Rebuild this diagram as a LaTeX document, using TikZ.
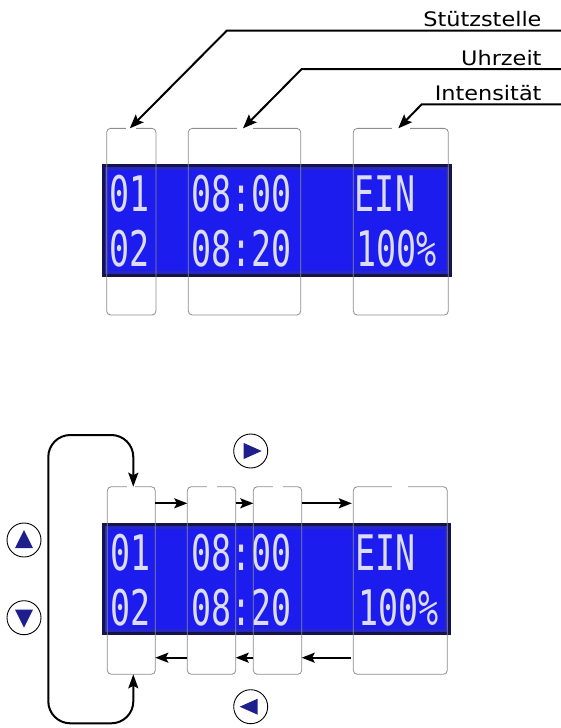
\documentclass[tikz,border=0pt]{standalone}
\usepackage{fontspec}
\newfontfamily\calfont{DejaVu Sans}
\newfontfamily\lcdfont{DejaVu Sans Mono}
\usetikzlibrary{arrows.meta}
\definecolor{lcdframe}{HTML}{14144A}
\definecolor{lcdmid}{HTML}{2828C0}
\definecolor{lcdblue}{HTML}{1C1CEE}
\definecolor{lcdtext}{HTML}{DCDCF4}
\definecolor{btnblue}{HTML}{1E1E8C}
\definecolor{boxgray}{HTML}{8C8C8C}
\newcommand\lcdstr[1]{\scalebox{0.68}[1]{#1}}
\newcommand\calstr[1]{\scalebox{1.12}[1]{#1}}
\begin{document}
\begin{tikzpicture}[x=1pt,y=-1pt,
 lcdbox/.style={draw=boxgray, line width=0.8pt, rounded corners=4pt, inner sep=0pt, outer sep=0pt},
 lcdtxt/.style={anchor=base west, inner sep=0pt, text=lcdtext, font=\lcdfont\fontsize{49}{49}\selectfont},
 caltxt/.style={anchor=base east, inner sep=0pt, font=\calfont\fontsize{20}{20}\selectfont},
 arr/.style={line width=2pt, -{Stealth[length=14pt,width=11pt,inset=2.5pt]}},
 harr/.style={line width=2pt, -{Stealth[length=13pt,width=10pt,inset=2.5pt]}},
 looparr/.style={line width=2pt, {Stealth[length=14pt,width=10pt,inset=2.5pt]}-{Stealth[length=14pt,width=10pt,inset=2.5pt]}, rounded corners=22pt},
 btn/.style={circle, draw=black, line width=0.9pt, minimum size=34pt, inner sep=0pt},
 tri/.style={fill=btnblue},
 gap/.style={white, line width=2pt},
]
\useasboundingbox (0,0) rectangle (561,728);

% ---------- top panel ----------
\fill[lcdframe] (101.7,164) rectangle (451.7,277);
\fill[lcdmid] (104.5,167) rectangle (448.9,274);
\fill[lcdblue] (108,170) rectangle (445.5,271);
\node[lcdtxt] (tA) at (109.7,211.7) {\lcdstr{01}};
\node[lcdtxt] (tB) at (109.7,266.7) {\lcdstr{02}};
\node[lcdtxt] (tC) at (191.3,211.7) {\lcdstr{08:00}};
\node[lcdtxt] (tD) at (191.3,266.7) {\lcdstr{08:20}};
\node[lcdtxt] (tE) at (354.7,211.7) {\lcdstr{EIN}};
\node[lcdtxt] (tF) at (356,266.7) {\lcdstr{100\%}};

\node[lcdbox, minimum width=49.3pt, minimum height=186.7pt] (t1) at (131.3,221.7) {};
\node[lcdbox, minimum width=112.4pt, minimum height=186.7pt] (t2) at (244.5,221.7) {};
\node[lcdbox, minimum width=95pt, minimum height=186.7pt] (t3) at (400.8,221.7) {};
\draw[gap] ([xshift=-5pt]t1.north) -- ([xshift=5pt]t1.north);
\draw[gap] ([xshift=-8pt]t2.north) -- ([xshift=8pt]t2.north);
\draw[gap] ([xshift=-9pt]t3.north) -- ([xshift=9pt]t3.north);

\coordinate (s1) at (226.7,30.7);
\coordinate (e1) at (561,30.7);
\coordinate (s2) at (301.7,69);
\coordinate (e2) at (561,69);
\coordinate (s3) at (421.7,104.3);
\coordinate (e3) at (561,104.3);
\draw[arr] (e1) -- (s1) -- ([xshift=-1.5pt]t1.north);
\draw[arr] (e2) -- (s2) -- ([xshift=-1.5pt]t2.north);
\draw[arr] (e3) -- (s3) -- ([xshift=-2.5pt]t3.north);
\node[caltxt] (lab1) at (541.7,26.7) {\calstr{Stützstelle}};
\node[caltxt] (lab2) at (541.7,65) {\calstr{Uhrzeit}};
\node[caltxt] (lab3) at (541.7,100.3) {\calstr{Intensität}};

% ---------- bottom panel ----------
\fill[lcdframe] (101.7,522.7) rectangle (450.7,635);
\fill[lcdmid] (104.5,525.7) rectangle (447.9,632);
\fill[lcdblue] (108,528.7) rectangle (444.5,629);
\node[lcdtxt] (uA) at (110.3,570.4) {\lcdstr{01}};
\node[lcdtxt] (uB) at (110.3,625.4) {\lcdstr{02}};
\node[lcdtxt] (uC) at (191.3,570.4) {\lcdstr{08:00}};
\node[lcdtxt] (uD) at (191.3,625.4) {\lcdstr{08:20}};
\node[lcdtxt] (uE) at (355,570.4) {\lcdstr{EIN}};
\node[lcdtxt] (uF) at (358,625.4) {\lcdstr{100\%}};

\node[lcdbox, minimum width=48pt, minimum height=187.6pt] (b1) at (131.3,580.5) {};
\node[lcdbox, minimum width=48.4pt, minimum height=187.6pt] (b2) at (211.5,580.5) {};
\node[lcdbox, minimum width=48.4pt, minimum height=187.6pt] (b3) at (277.5,580.5) {};
\node[lcdbox, minimum width=94pt, minimum height=187.6pt] (b4) at (400.3,580.5) {};
\draw[gap] ([xshift=-4pt]b1.north) -- ([xshift=4pt]b1.north);
\draw[gap] ([xshift=-5pt]b2.north) -- ([xshift=5pt]b2.north);
\draw[gap] ([xshift=-5pt]b3.north) -- ([xshift=5pt]b3.north);
\draw[gap] ([xshift=-8pt]b4.north) -- ([xshift=8pt]b4.north);

\draw[harr] ([yshift=-16.6pt]b1.north east) -- ([yshift=-16.6pt]b2.north west);
\draw[harr] ([yshift=-16.6pt]b2.north east) -- ([yshift=-16.6pt]b3.north west);
\draw[harr] ([yshift=-16.6pt]b3.north east) -- ([yshift=-16.6pt,xshift=-1.5pt]b4.north west);
\draw[harr] ([yshift=16.6pt,xshift=-2.5pt]b4.south west) -- ([yshift=16.6pt]b3.south east);
\draw[harr] ([yshift=16.6pt]b3.south west) -- ([yshift=16.6pt]b2.south east);
\draw[harr] ([yshift=16.6pt]b2.south west) -- ([yshift=16.6pt]b1.south east);

\coordinate (ltop) at (48.3,435);
\coordinate (lbot) at (48.3,723.3);
\draw[looparr] ([xshift=2pt]b1.north) -- ([xshift=2pt]b1.north |- ltop) -- (ltop) -- (lbot) -- ([xshift=2pt]b1.south |- lbot) -- ([xshift=2pt]b1.south);

\node[btn] (bR) at (250.7,451) {};
\node[btn] (bU) at (24,540) {};
\node[btn] (bD) at (24,617.7) {};
\node[btn] (bL) at (250.7,706.7) {};
\fill[tri] ([shift={(-7,-8)}]bR.center) -- ([shift={(11,0)}]bR.center) -- ([shift={(-7,8)}]bR.center) -- cycle;
\fill[tri] ([shift={(7,-8)}]bL.center) -- ([shift={(-11,0)}]bL.center) -- ([shift={(7,8)}]bL.center) -- cycle;
\fill[tri] ([shift={(-9,8)}]bU.center) -- ([shift={(0,-10)}]bU.center) -- ([shift={(9,8)}]bU.center) -- cycle;
\fill[tri] ([shift={(-9,-8)}]bD.center) -- ([shift={(0,10)}]bD.center) -- ([shift={(9,-8)}]bD.center) -- cycle;
\end{tikzpicture}
\end{document}
